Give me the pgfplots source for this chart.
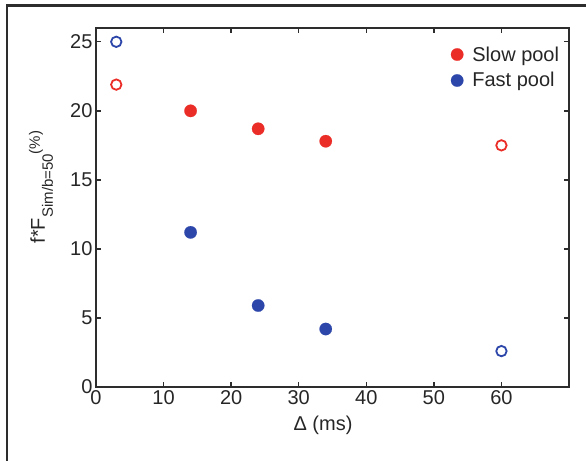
\documentclass[border=0pt]{standalone}
\usepackage{fontspec}
\setmainfont{Liberation Sans}
\usepackage{pgfplots}
\pgfplotsset{compat=1.18}
\definecolor{slowred}{RGB}{235,45,40}
\definecolor{fastblue}{RGB}{45,70,170}
\definecolor{axgray}{RGB}{45,45,45}
\newcommand{\bigfont}{\fontsize{20bp}{24bp}\selectfont}
\newcommand{\subfont}{\fontsize{15bp}{18bp}\selectfont}

\begin{document}
\begin{tikzpicture}[x=1bp,y=1bp]
\begin{axis}[
    scale only axis,
    width=473bp, height=359bp,
    xmin=0, xmax=70, ymin=0, ymax=26,
    xtick={0,10,...,60}, ytick={0,5,...,25},
    tick align=inside,
    major tick length=5bp,
    axis line style={axgray, line width=1.6bp},
    every tick/.style={axgray, line width=1.4bp},
    /pgf/number format/assume math mode=true,
    tick label style={font=\bigfont, text=black!85},
    label style={font=\bigfont, text=black!85},
    xlabel={Δ (ms)},
    xlabel style={at={(axis description cs:0.48,0)}, anchor=north, yshift=-25bp},
    ylabel={f*F\raisebox{-8bp}{\subfont Sim/b=50}\raisebox{5bp}{\subfont (\%)}},
    ylabel style={at={(axis description cs:-0.108,0.557)}, anchor=base, rotate=0},
    legend style={draw=none, fill=none, font=\bigfont, text=black!85,
        at={(rel axis cs:0.99,0.96)}, anchor=north east, row sep=6bp,
        /tikz/every odd column/.append style={column sep=7bp}},
    legend cell align=left,
]
% slow pool, filled
\addplot[only marks, mark=*, mark size=6.2bp, mark options={fill=slowred, draw=slowred, line width=0.2bp}]
    coordinates {(14,20.0) (24,18.7) (34,17.8)};
\addlegendentry{Slow pool}
% fast pool, filled
\addplot[only marks, mark=*, mark size=6.2bp, mark options={fill=fastblue, draw=fastblue, line width=0.2bp}]
    coordinates {(14,11.2) (24,5.9) (34,4.2)};
\addlegendentry{Fast pool}
% open markers
\addplot[only marks, mark=o, mark size=5.2bp, forget plot, mark options={draw=slowred, line width=1.8bp}]
    coordinates {(3,21.9) (60,17.5)};
\addplot[only marks, mark=o, mark size=5.2bp, forget plot, mark options={draw=fastblue, line width=1.8bp}]
    coordinates {(3,25.0) (60,2.6)};
\end{axis}
\draw[axgray, line width=2.2bp] (-89.3,-120) -- (-89.3,381.4) -- (620,381.4);
\pgfresetboundingbox
\path[use as bounding box] (-96,-74) rectangle (490,387);
\end{tikzpicture}
\end{document}
